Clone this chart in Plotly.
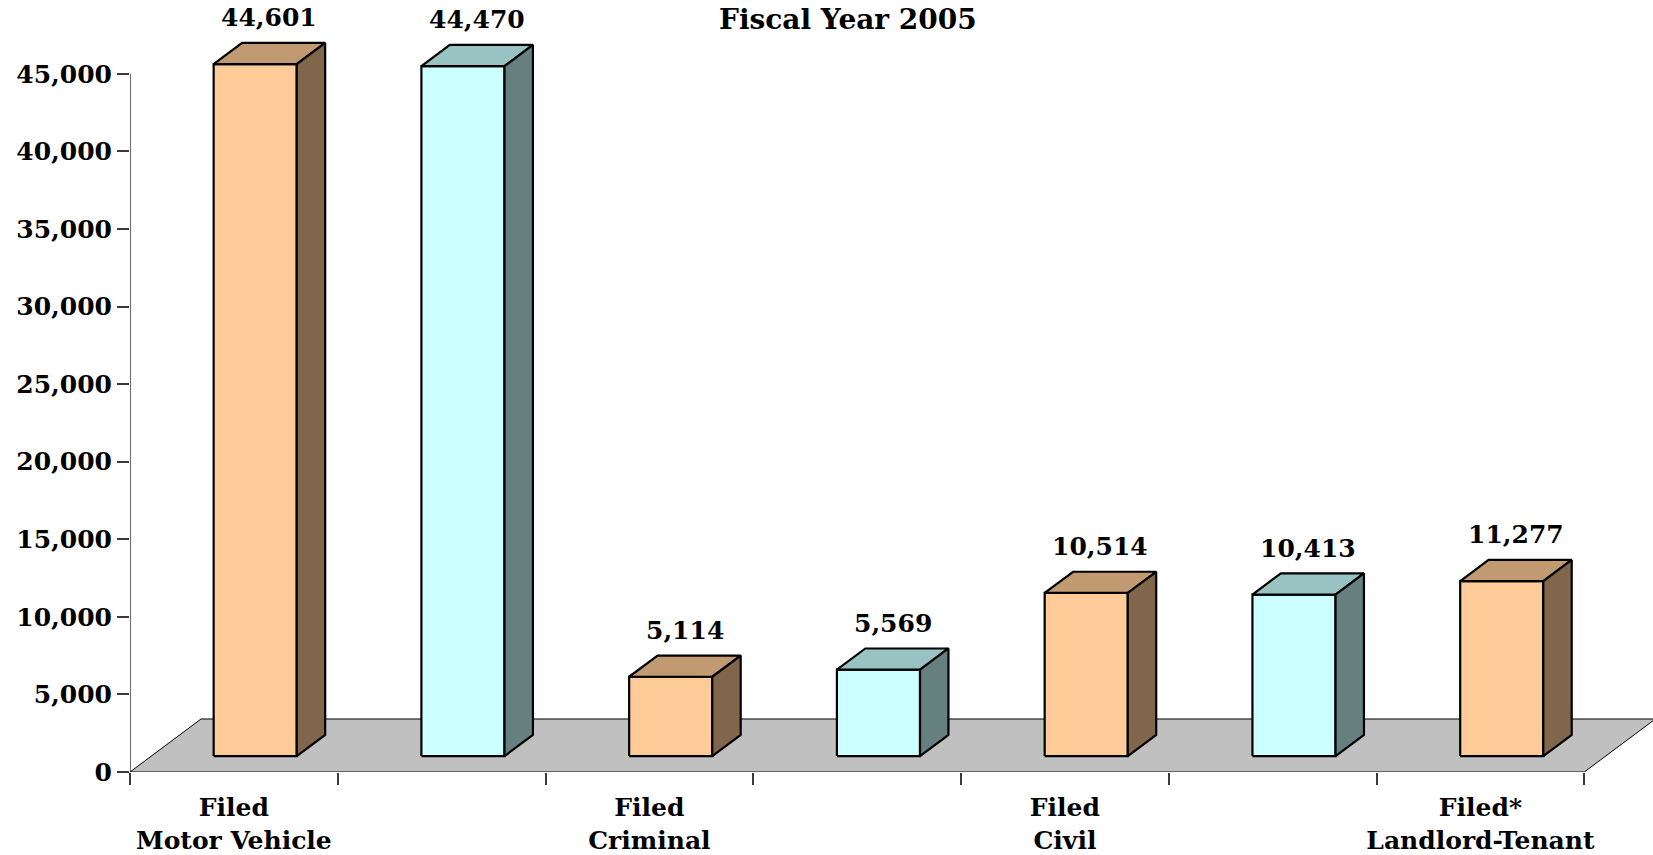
import plotly.graph_objects as go

# --- donnees ---------------------------------------------------------------
TITLE = "Fiscal Year 2005"
CATEGORY_LABELS = [
    "Filed<br>Motor Vehicle",
    "",
    "Filed<br>Criminal",
    "",
    "Filed<br>Civil",
    "",
    "Filed*<br>Landlord-Tenant",
]
CASE_COUNTS = [44601, 44470, 5114, 5569, 10514, 10413, 11277]
BAR_STYLE = ["peach", "cyan", "peach", "cyan", "peach", "cyan", "peach"]
Y_TICKS = [0, 5000, 10000, 15000, 20000, 25000, 30000, 35000, 40000, 45000]

# faces: avant, dessus, cote
FACE_COLORS = {
    "peach": ("#ffcc99", "#c19a72", "#80664a"),
    "cyan": ("#ccffff", "#99c2c2", "#668080"),
}
FLOOR_COLOR = "#c0c0c0"
FONT = "DejaVu Serif"
FONT_SIZE = 25

# --- geometrie pseudo-3D (unites des axes) ----------------------------------
FLOOR_DX = 0.342      # profondeur du sol, en unites x
FLOOR_DY = 3417       # profondeur du sol, en unites y
BAR_W = 0.4
DEPTH_FRONT = 0.3
DEPTH_BACK = 0.7

W, H = 1653, 855
ML, MB = 129.7, 83.3
PX_X = 207.8          # px par categorie
PX_Y = 0.015509       # px par unite

x_max = -0.5 + (W - ML) / PX_X
y_max = (H - MB) / PX_Y

fig = go.Figure()


def poly(xs, ys, fill, width):
    fig.add_trace(
        go.Scatter(
            x=xs + xs[:1],
            y=ys + ys[:1],
            mode="lines",
            fill="toself",
            fillcolor=fill,
            line=dict(color="#000000", width=width),
            hoverinfo="skip",
            showlegend=False,
        )
    )


# sol
n = len(CASE_COUNTS)
poly(
    [-0.5, n - 0.5, n - 0.5 + FLOOR_DX, -0.5 + FLOOR_DX],
    [0, 0, FLOOR_DY, FLOOR_DY],
    FLOOR_COLOR,
    1,
)

ddx = (DEPTH_BACK - DEPTH_FRONT) * FLOOR_DX
ddy = (DEPTH_BACK - DEPTH_FRONT) * FLOOR_DY
for i, (v, style) in enumerate(zip(CASE_COUNTS, BAR_STYLE)):
    front_c, top_c, side_c = FACE_COLORS[style]
    x0 = i - BAR_W / 2 + DEPTH_FRONT * FLOOR_DX
    x1 = x0 + BAR_W
    y0 = DEPTH_FRONT * FLOOR_DY
    y1 = y0 + v
    poly([x0, x1, x1, x0], [y0, y0, y1, y1], front_c, 2.2)
    poly([x0, x1, x1 + ddx, x0 + ddx], [y1, y1, y1 + ddy, y1 + ddy], top_c, 2.2)
    poly([x1, x1 + ddx, x1 + ddx, x1], [y0, y0 + ddy, y1 + ddy, y1], side_c, 2.2)
    fig.add_annotation(
        x=(x0 + x1 + ddx) / 2,
        y=y1 + ddy,
        text=f"{v:,}",
        showarrow=False,
        yanchor="middle",
        yshift=25,
        font=dict(family=FONT, size=FONT_SIZE, color="#000000", weight="bold"),
    )

# titre (cale en haut de la page, sans debordement)
fig.add_annotation(
    text=TITLE,
    xref="paper",
    yref="paper",
    x=(848 - ML) / (W - ML),
    y=1,
    xanchor="center",
    yanchor="top",
    yshift=-1,
    showarrow=False,
    font=dict(family=FONT, size=28, color="#000000", weight="bold"),
)

# axe vertical (de 0 a 45 000 seulement)
fig.add_shape(
    type="line", xref="x", yref="y",
    x0=-0.5, x1=-0.5, y0=0, y1=Y_TICKS[-1],
    line=dict(color="#3a3a3a", width=1.5),
)

fig.update_layout(
    width=W,
    height=H,
    margin=dict(l=ML, r=0, t=0, b=MB),
    plot_bgcolor="#ffffff",
    paper_bgcolor="#ffffff",
    showlegend=False,
    font=dict(family=FONT, size=FONT_SIZE, color="#000000", weight="bold"),
)
fig.update_xaxes(
    range=[-0.5, x_max],
    tickmode="array",
    tickvals=list(range(n)),
    ticktext=CATEGORY_LABELS,
    ticks="",
    ticklabelstandoff=18,
    showgrid=False,
    zeroline=False,
    showline=False,
    minor=dict(
        tickmode="array",
        tickvals=[i - 0.5 for i in range(n + 1)],
        ticks="outside",
        ticklen=12,
        tickwidth=1.5,
        tickcolor="#3a3a3a",
        showgrid=False,
    ),
)
fig.update_yaxes(
    range=[0, y_max],
    tickmode="array",
    tickvals=Y_TICKS,
    tickformat=",",
    ticks="outside",
    ticklen=12,
    tickwidth=1.5,
    tickcolor="#3a3a3a",
    showgrid=False,
    zeroline=False,
    showline=False,
)

fig.write_html(
    "out.html",
    config={"displayModeBar": False},
    post_script="document.body.style.margin='0';document.body.style.overflow='hidden';",
)
